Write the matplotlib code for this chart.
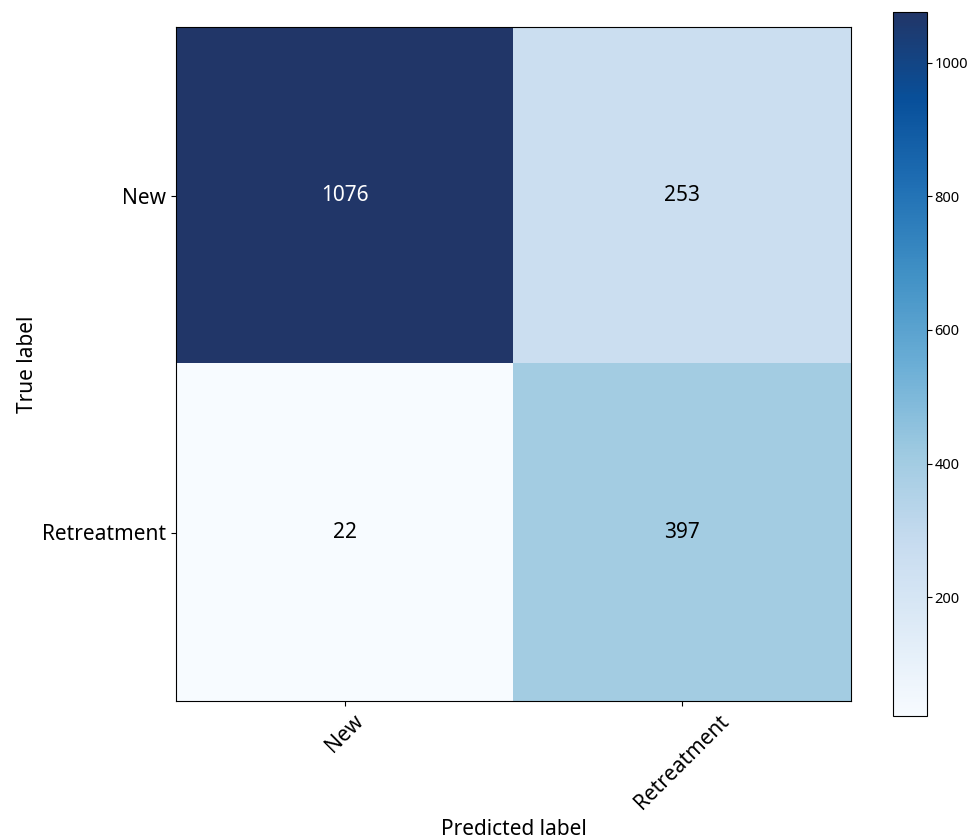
import numpy as np
import matplotlib
matplotlib.use("Agg")
import matplotlib.pyplot as plt
from matplotlib.colors import LinearSegmentedColormap

plt.rcParams['font.family'] = ['Noto Sans', 'DejaVu Sans']

classes = ["New", "Retreatment"]
counts = [[1076, 253],
          [22, 397]]

cm = np.array(counts)

# Blues ramp ending in a softer navy
blues = plt.get_cmap("Blues")
stops = np.linspace(0, 1, 9)
colors = [blues(s) for s in stops[:-1]] + ["#213668"]
cmap = LinearSegmentedColormap.from_list("blues_navy", list(zip(stops, colors)))

fig = plt.figure(figsize=(9.69, 8.4), dpi=100)
ax = fig.add_axes([176 / 969, 1 - 701 / 840, 675 / 969, 674 / 840])
cax = fig.add_axes([893 / 969, 1 - 716 / 840, 34 / 969, 704 / 840])

im = ax.imshow(cm, interpolation="nearest", cmap=cmap, aspect="auto",
               vmin=cm.min(), vmax=cm.max())
cb = fig.colorbar(im, cax=cax)
cb.set_ticks([200, 400, 600, 800, 1000])
cb.ax.tick_params(labelsize=10.5, pad=2)

ax.set_xticks(np.arange(len(classes)))
ax.set_yticks(np.arange(len(classes)))
ax.set_xticklabels(classes, rotation=45, fontsize=15)
ax.set_yticklabels(classes, fontsize=15)
ax.set_xlabel("Predicted label", fontsize=15, labelpad=4)
ax.set_ylabel("True label", fontsize=15, labelpad=3)

thresh = cm.max() / 2.0
for i in range(cm.shape[0]):
    for j in range(cm.shape[1]):
        ax.text(j, i, format(cm[i, j], "d"), ha="center", va="center",
                fontsize=15, color="white" if cm[i, j] > thresh else "black")

fig.savefig("out.png", dpi=100)
